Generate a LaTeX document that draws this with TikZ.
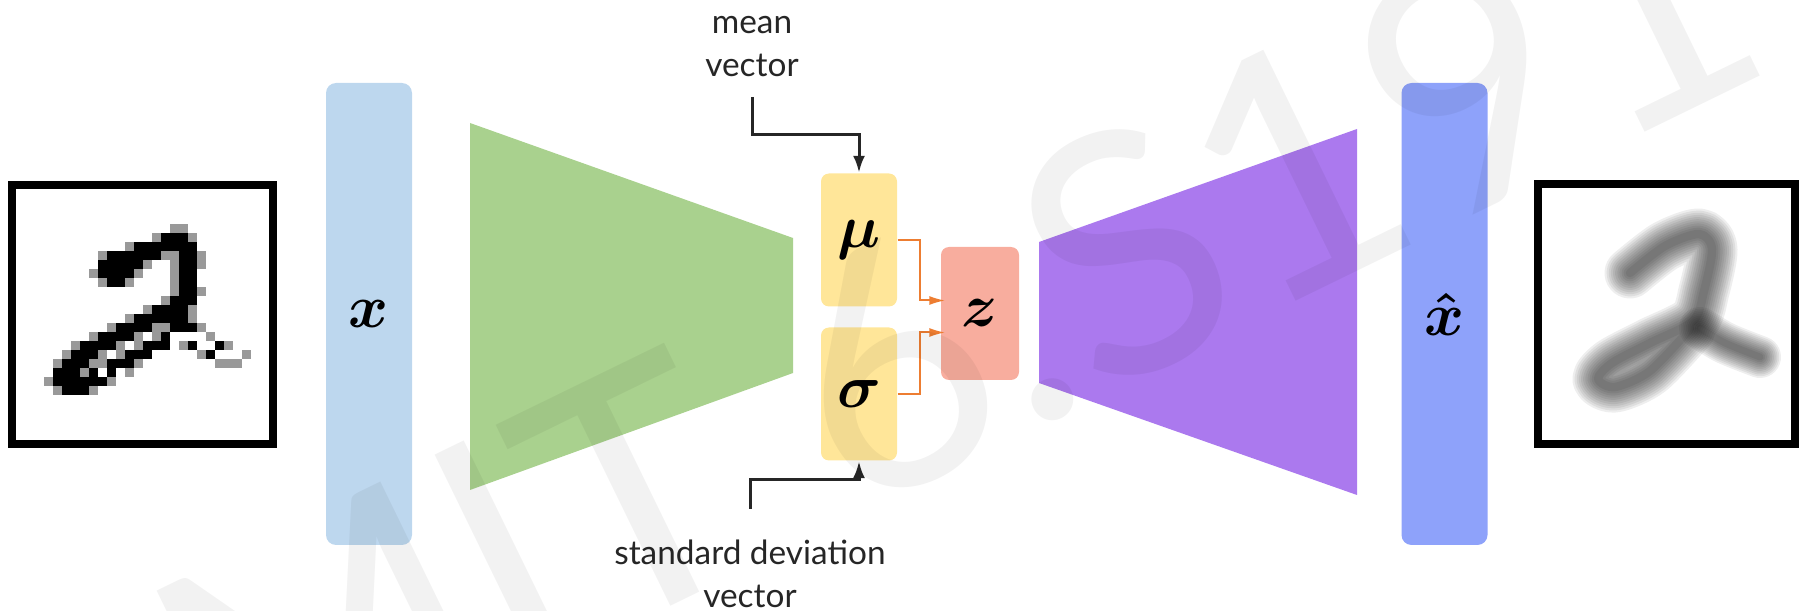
\documentclass[tikz,border=0pt]{standalone}
\usepackage{amsmath}
\usepackage{fontspec}
\setmainfont{Lato}
\usetikzlibrary{arrows.meta,positioning}

\definecolor{inblue}{RGB}{189,215,238}
\definecolor{encgreen}{RGB}{169,209,142}
\definecolor{muyellow}{RGB}{255,230,153}
\definecolor{zpink}{RGB}{248,173,158}
\definecolor{decpurple}{RGB}{171,121,238}
\definecolor{outblue}{RGB}{142,162,250}
\definecolor{arroworange}{RGB}{237,125,49}

\tikzset{
    layer/.style={rounded corners=1mm, minimum width=8.6mm, minimum height=46.2mm, inner sep=0pt},
    latent/.style={fill=muyellow, rounded corners=0.8mm, minimum width=7.6mm, minimum height=13.3mm, inner sep=0pt},
    digitbox/.style={draw, line width=0.8mm, inner sep=0pt},
    vecarrow/.style={-{Latex[length=1.7mm,width=1.2mm]}, line width=0.3mm, draw=black!85},
    samplearrow/.style={-{Latex[length=1.6mm,width=0.9mm]}, line width=0.2mm, draw=arroworange},
    caption/.style={font=\fontsize{9.5}{12.2}\selectfont, text=black!85, align=center, inner sep=0pt},
    sym/.style={font=\fontsize{17}{17}\selectfont},
    soft/.style={black, opacity=0.065, line cap=round, line join=round}
}

\begin{document}
\begin{tikzpicture}[x=0.1mm, y=0.1mm]
    \useasboundingbox (0,0) rectangle (1807,611);

    % input digit, one cell = 9 units
    \node[digitbox, minimum width=26.1mm, minimum height=25.9mm] (imgin) at (142.5,296.5) {};
    \foreach \r/\cs in {4/{17,18}, 5/{15,19}, 6/{12}, 7/{9,16,17,20}, 8/{14,17,20}, 9/{8,13,17},
        10/{9,12,17}, 11/{17,20}, 12/{16}, 13/{14,19}, 14/{12,19}, 15/{10,15,16,20},
        16/{8,13,15,21}, 17/{6,11,13,18,23}, 18/{5,9,11,20,25}, 19/{4,8,9,13,22,23,24},
        20/{7,12}, 21/{3,10}, 22/{4,8}}
        \foreach \c in \cs
            \fill[black!40] ({17+9*\c},{423-9*\r}) rectangle ++(9,-9);
    \foreach \r/\cs in {5/{16,17,18}, 6/{13,...,19}, 7/{10,...,15,18,19}, 8/{9,...,13,18,19},
        9/{9,...,12,18,19}, 10/{10,11,18,19}, 11/{18,19}, 12/{17,18,19}, 13/{15,...,18},
        14/{13,...,18}, 15/{11,...,14,17,18,19}, 16/{9,...,12,16,...,20},
        17/{7,...,10,14,15,16,19,...,22}, 18/{6,7,8,12,13,14,21,...,24},
        19/{5,6,7,10,11,12}, 20/{4,5,6,8,...,11}, 21/{4,...,9}, 22/{5,6,7}}
        \foreach \c in \cs
            \fill[black] ({17+9*\c},{423-9*\r}) rectangle ++(9,-9);

    % input vector
    \node[layer, fill=inblue, sym] (xin) at (369,297) {$\boldsymbol{x}$};

    % encoder
    \fill[encgreen] (470,488) -- (793,373) -- (793,238) -- (470,121) -- cycle;

    % latent distribution and sample
    \node[latent, sym] (mu) at (859,371) {$\boldsymbol{\mu}$};
    \node[latent, sym] (sigma) at (859,217) {$\boldsymbol{\sigma}$};
    \node[latent, sym, fill=zpink, minimum width=7.8mm] (z) at (980,297.5) {$\boldsymbol{z}$};

    % decoder
    \fill[decpurple] (1039,369) -- (1357,482) -- (1357,116) -- (1039,228) -- cycle;

    % reconstruction
    \node[layer, fill=outblue, sym] (xout) at (1444.5,297) {$\boldsymbol{\hat{x}}$};

    % reconstructed digit, soft strokes built up in layers
    \foreach \w in {60,55,...,10} {
        \draw[soft, line width=\w*0.085mm]
            plot[smooth] coordinates {(1630,338) (1665,365) (1699,377) (1712,362) (1704,320) (1693,290)
                (1650,268) (1612,248) (1598,232) (1615,224) (1650,240) (1690,282)};
        \draw[soft, line width=\w*0.07mm]
            plot[smooth] coordinates {(1700,283) (1725,268) (1760,254)};
    }
    \node[digitbox, minimum width=25.7mm, minimum height=26mm] (imgout) at (1666.5,297) {};

    % labels
    \node[caption, anchor=south] (meanlbl) at (752,534) {mean\\vector};
    \node[caption, anchor=south] (stdlbl) at (750,3) {standard deviation\\vector};

    % arrows
    \draw[vecarrow] ([yshift=-2mm]meanlbl.south) -- ++(0,-38) -| (mu.north);
    \draw[vecarrow] ([yshift=3mm]stdlbl.north) -- ++(0,29) -| (sigma.south);
    \draw[samplearrow] (mu.east) -- ++(22,0) |- ([shift={(0.5mm,1.3mm)}]z.west);
    \draw[samplearrow] (sigma.east) -- ++(22,0) |- ([shift={(0.5mm,-1.9mm)}]z.west);

    % course mark
    \node[rotate=26, opacity=0.05, font=\fontsize{95}{95}\selectfont] (wmark) at (955,276) {MIT 6.S191};
\end{tikzpicture}
\end{document}
